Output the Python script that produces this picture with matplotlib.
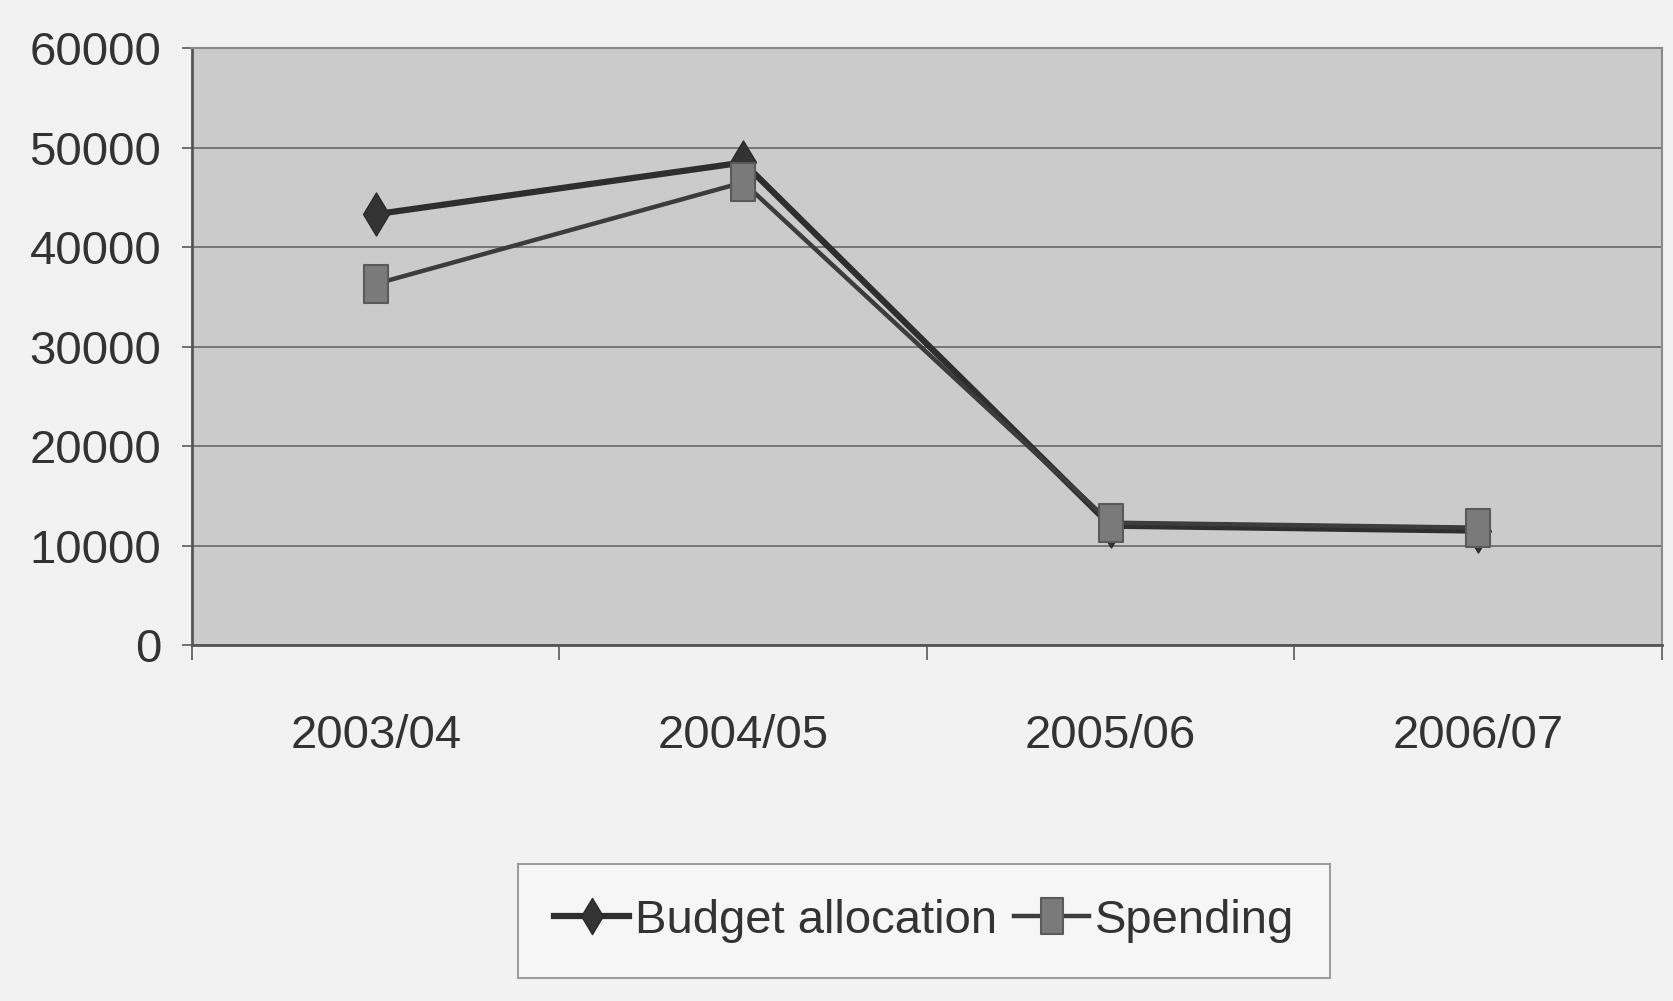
import matplotlib
matplotlib.use("Agg")
import matplotlib.pyplot as plt
from matplotlib.path import Path
import numpy as np

categories = ["2003/04", "2004/05", "2005/06", "2006/07"]
budget_allocation = [43300, 48500, 12000, 11500]
spending = [36300, 46500, 12300, 11800]
y_ticks = [0, 10000, 20000, 30000, 40000, 50000, 60000]

plt.rcParams['font.family'] = ['Liberation Sans Narrow', 'Liberation Sans', 'DejaVu Sans']

diamond = Path([(0, 1), (0.6, 0), (0, -1), (-0.6, 0), (0, 1)],
               [Path.MOVETO, Path.LINETO, Path.LINETO, Path.LINETO, Path.CLOSEPOLY])
tall_sq = Path([(-0.62, -1), (0.62, -1), (0.62, 1), (-0.62, 1), (-0.62, -1)],
               [Path.MOVETO, Path.LINETO, Path.LINETO, Path.LINETO, Path.CLOSEPOLY])

fig = plt.figure(figsize=(16.74, 10.01), dpi=100, facecolor="#f2f2f2")
ax = fig.add_axes([0.1147, 0.3556, 0.8781, 0.5964])
ax.set_facecolor("#cbcbcb")

x = np.arange(len(categories))
ax.plot(x, budget_allocation, color="#2e2e2e", lw=4.5, marker=diamond, ms=31,
        mfc="#333333", mec="#2a2a2a", label="Budget allocation", zorder=3)
ax.plot(x, spending, color="#3c3c3c", lw=3.2, marker=tall_sq, ms=27,
        mfc="#7a7a7a", mec="#5a5a5a", mew=1.5, label="Spending", zorder=4)

ax.set_xlim(-0.5, len(categories) - 0.5)
ax.set_ylim(0, 60000)
ax.set_yticks(y_ticks)
ax.set_yticklabels([str(v) for v in y_ticks])
ax.set_xticks(x)
ax.set_xticklabels(categories)
ax.set_xticks(np.arange(-0.5, len(categories)), minor=True)

ax.yaxis.grid(True, color="#6e6e6e", lw=1.3)
ax.set_axisbelow(True)

for s in ["left", "bottom"]:
    ax.spines[s].set_color("#555555")
    ax.spines[s].set_linewidth(2)
for s in ["top", "right"]:
    ax.spines[s].set_color("#8a8a8a")
    ax.spines[s].set_linewidth(1.5)

fs = 34
ax.tick_params(axis="y", length=7, width=1.3, color="#666666", pad=15,
               labelsize=fs, labelcolor="#333333")
ax.tick_params(axis="x", which="major", length=0, pad=50,
               labelsize=fs, labelcolor="#333333")
ax.tick_params(axis="x", which="minor", length=11, width=1.3, color="#666666")

leg = fig.legend(loc="center", bbox_to_anchor=(0.552, 0.08), ncol=2,
                 fontsize=fs, frameon=True, fancybox=False, handlelength=1.6,
                 handletextpad=0.12, columnspacing=0.35, borderpad=0.75,
                 borderaxespad=0, labelcolor="#333333")
leg.get_frame().set_edgecolor("#888888")
leg.get_frame().set_facecolor("#f8f8f8")
leg.get_frame().set_linewidth(1.5)
for h in leg.legend_handles:
    h.set_markersize(26)

fig.savefig("out.png", dpi=100, facecolor=fig.get_facecolor())
